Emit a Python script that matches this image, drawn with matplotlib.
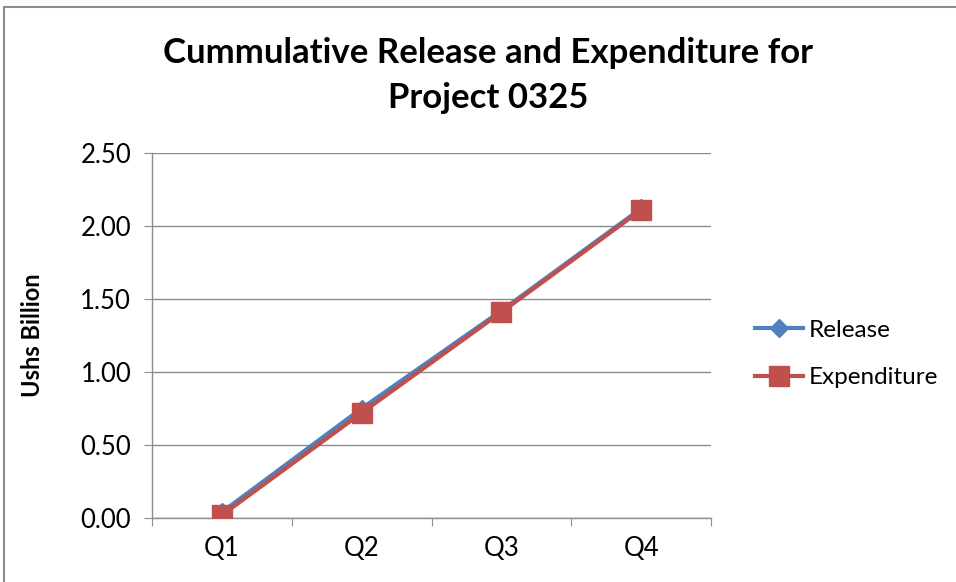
import matplotlib
matplotlib.use("Agg")
import matplotlib.pyplot as plt
from matplotlib.patches import Rectangle
from matplotlib.lines import Line2D

categories = ["Q1", "Q2", "Q3", "Q4"]
release = [0.04, 0.75, 1.42, 2.12]
expenditure = [0.02, 0.72, 1.41, 2.11]
yticks = [0.0, 0.5, 1.0, 1.5, 2.0, 2.5]

plt.rcParams['font.family'] = ['Lato', 'DejaVu Sans']

fig = plt.figure(figsize=(9.56, 5.82), dpi=100)
W, H = 956, 582
# outer frame
fig.patches.append(Rectangle((4 / W, -0.1), 1.2, 1 - 7 / H + 0.1, transform=fig.transFigure,
                             fill=False, edgecolor='#8c8c8c', linewidth=1.5))

ax = fig.add_axes([152 / W, 1 - 518 / H, (711 - 152) / W, (518 - 153) / H])
xpos = [i + 0.5 for i in range(len(categories))]
blue = '#4F81BD'
red = '#C0504D'
ax.plot(xpos, release, color=blue, linewidth=3, marker='D', markersize=9, zorder=3)
ax.plot(xpos, expenditure, color=red, linewidth=3, marker='s', markersize=14, zorder=4)

ax.set_xlim(0, 4)
ax.set_ylim(0, 2.5)
ax.set_yticks(yticks)
ax.set_yticklabels([f"{v:.2f}" for v in yticks])
ax.set_xticks(range(5))
ax.set_xticklabels([])
ax.set_xticks(xpos, minor=True)
ax.set_xticklabels(categories, minor=True)
ax.tick_params(axis='x', which='minor', length=0, pad=13, labelsize=18.5, colors='#000000')
ax.tick_params(axis='x', which='major', length=6, color='#8c8c8c', direction='out')
ax.tick_params(axis='y', length=6, color='#8c8c8c', direction='out', labelsize=18.5, pad=9)
ax.grid(axis='y', color='#8c8c8c', linewidth=1)
ax.set_axisbelow(True)
for s in ['top', 'right']:
    ax.spines[s].set_visible(False)
for s in ['left', 'bottom']:
    ax.spines[s].set_color('#8c8c8c')
    ax.spines[s].set_linewidth(1)
ax.set_ylabel("Ushs Billion", fontsize=17, fontweight='bold', labelpad=26)

fig.text(488 / W, 1 - 53 / H, "Cummulative Release and Expenditure for", ha='center', va='center',
         fontsize=25, fontweight='bold')
fig.text(488 / W, 1 - 98 / H, "Project 0325", ha='center', va='center',
         fontsize=25, fontweight='bold')

handles = [Line2D([], [], color=blue, linewidth=3, marker='D', markersize=9),
           Line2D([], [], color=red, linewidth=3, marker='s', markersize=14)]
fig.legend(handles, ["Release", "Expenditure"], loc='center left',
           bbox_to_anchor=(733 / W, 1 - 354 / H), frameon=False, fontsize=17.5,
           handlelength=2.0, handletextpad=0.2, labelspacing=1.1)

fig.savefig("out.png", dpi=100)
